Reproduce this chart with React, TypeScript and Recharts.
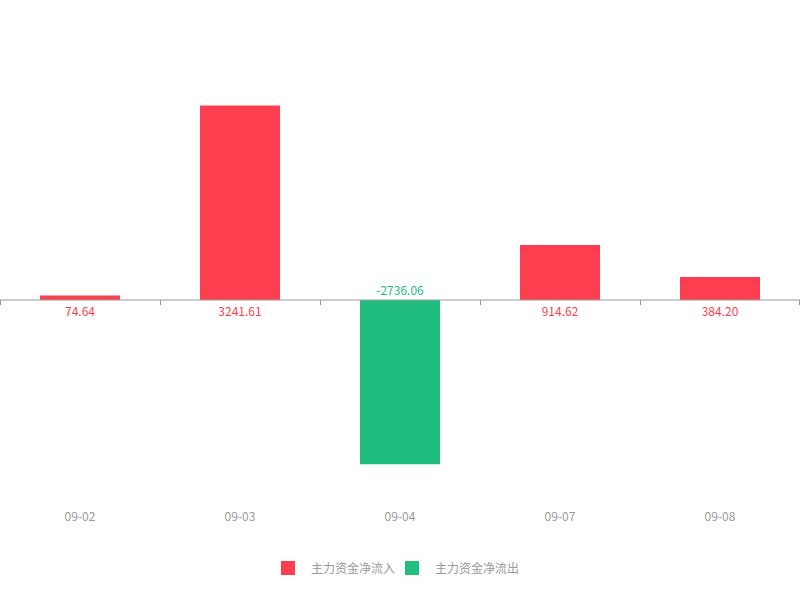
import React from "react";
import { ComposedChart, Bar, XAxis, YAxis, ReferenceLine, LabelList, Legend } from "recharts";

const categories = ["09-02", "09-03", "09-04", "09-07", "09-08"];
const inflowValues: (number | null)[] = [74.64, 3241.61, null, 914.62, 384.2];
const outflowValues: (number | null)[] = [null, null, -2736.06, null, null];
const seriesNames = ["主力资金净流入", "主力资金净流出"];
const seriesColors = ["#fd3e4e", "#21bd7f"];

const data = categories.map((c, i) => ({ name: c, inflow: inflowValues[i], outflow: outflowValues[i] }));

const FONT = "'Noto Sans CJK SC', 'Noto Sans', sans-serif";

const makeLabel = (color: string) => (props: any) => {
  const { x, y, width, height, value } = props;
  if (value === null || value === undefined) return null;
  const v = Number(value);
  const top = Math.min(y, y + height);
  const bottom = Math.max(y, y + height);
  const base = v >= 0 ? bottom : top;
  const cy = v >= 0 ? base + 10 : base - 11;
  return (
    <text x={x + width / 2} y={cy} textAnchor="middle" dominantBaseline="central" fill={color} fontSize={12} fontFamily={FONT}>
      {v.toFixed(2)}
    </text>
  );
};

const AxisTick = (props: any) => {
  const { x, y, payload } = props;
  return (
    <text x={x} y={y + 35} textAnchor="middle" dominantBaseline="central" fill="#999" fontSize={12} fontFamily={FONT}>
      {payload.value}
    </text>
  );
};

const ZeroAxis = (props: any) => {
  const { x1, x2, y1 } = props;
  const n = categories.length;
  const step = (x2 - x1) / n;
  const ticks = [];
  for (let i = 0; i <= n; i++) {
    const tx = Math.min(x1 + i * step, x2 - 1);
    ticks.push(<line key={i} x1={tx + 0.5} x2={tx + 0.5} y1={y1} y2={y1 + 5} stroke="#999" strokeWidth={1} />);
  }
  return (
    <g>
      <line x1={x1} x2={x2} y1={y1} y2={y1} stroke="#999" strokeWidth={1} />
      {ticks}
    </g>
  );
};

const LegendContent = () => (
  <div style={{ display: "flex", justifyContent: "center", alignItems: "center", fontFamily: FONT, fontSize: 12, color: "#999", width: 800 }}>
    {seriesNames.map((n, i) => (
      <div key={n} style={{ display: "flex", alignItems: "center", marginLeft: i === 0 ? 0 : 10 }}>
        <div style={{ width: 14, height: 14, background: seriesColors[i], marginRight: 16 }} />
        <span style={{ lineHeight: "14px" }}>{n}</span>
      </div>
    ))}
  </div>
);

export default function App() {
  return (
    <div style={{ position: "absolute", left: 0, top: 0, width: 800, height: 600, overflow: "hidden" }}>
      <ComposedChart width={800} height={600} data={data} margin={{ top: 60, right: 0, bottom: 70, left: 0 }}>
        <XAxis dataKey="name" axisLine={false} tickLine={false} tickSize={0} tickMargin={0} height={50} tick={<AxisTick />} interval={0} />
        <YAxis hide domain={[-3000, 4000]} type="number" allowDataOverflow />
        <ReferenceLine y={0} shape={<ZeroAxis />} />
        <Bar dataKey="inflow" stackId="a" fill={seriesColors[0]} barSize={80} isAnimationActive={false} name={seriesNames[0]}>
          <LabelList dataKey="inflow" content={makeLabel(seriesColors[0])} />
        </Bar>
        <Bar dataKey="outflow" stackId="a" fill={seriesColors[1]} barSize={80} isAnimationActive={false} name={seriesNames[1]}>
          <LabelList dataKey="outflow" content={makeLabel(seriesColors[1])} />
        </Bar>
        <Legend verticalAlign="middle" align="center" layout="horizontal" content={<LegendContent />} wrapperStyle={{ top: 561, left: 0, width: 800 }} />
      </ComposedChart>
    </div>
  );
}
